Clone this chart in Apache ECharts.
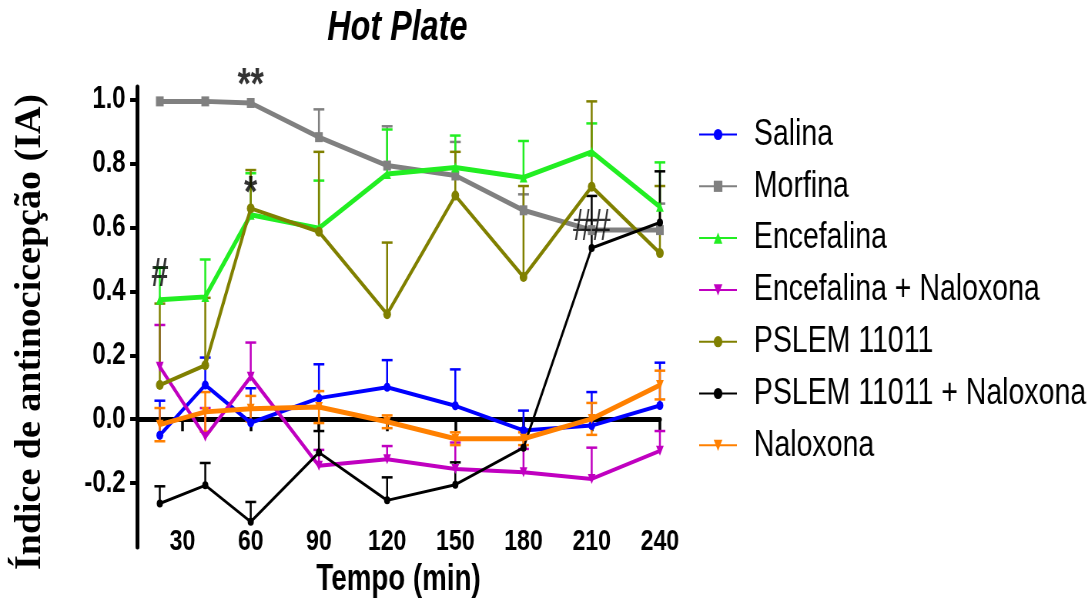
<!DOCTYPE html>
<html>
<head>
<meta charset="utf-8">
<script src="https://cdn.jsdelivr.net/npm/echarts@6/dist/echarts.min.js"></script>
<style>
html, body { margin:0; padding:0; overflow:hidden; background:#fff; }
#chart { width:1418px; height:603px; transform:scaleX(0.77); transform-origin:0 0; }
</style>
</head>
<body>
<div id="chart"></div>
<script>
// ---- data ----
const times = [20, 40, 60, 90, 120, 150, 180, 210, 240];
const xTicks = [30, 60, 90, 120, 150, 180, 210, 240];
const yTicks = [-0.2, 0.0, 0.2, 0.4, 0.6, 0.8, 1.0];
const seriesNames = ['Salina', 'Morfina', 'Encefalina', 'Encefalina + Naloxona', 'PSLEM 11011', 'PSLEM 11011 + Naloxona', 'Naloxona'];

const salina      = [-0.050, 0.107, -0.011, 0.066, 0.100, 0.042, -0.035, -0.020, 0.043];
const salinaErr   = [0.108, 0.086, 0.108, 0.106, 0.085, 0.114, 0.062, 0.105, 0.134];
const morfina     = [0.995, 0.995, 0.990, 0.883, 0.794, 0.763, 0.654, 0.592, 0.592];
const morfinaErr  = [0, 0, 0, 0.087, 0.123, 0.105, 0.050, 0.030, 0.083];
const encefalina  = [0.374, 0.383, 0.640, 0.598, 0.768, 0.788, 0.757, 0.837, 0.665];
const encefalinaErr = [0.100, 0.117, 0.130, 0.149, 0.139, 0.100, 0.114, 0.089, 0.139];
const encNal      = [0.164, -0.055, 0.133, -0.146, -0.125, -0.156, -0.166, -0.187, -0.099];
const encNalErr   = [0.131, 0.090, 0.107, 0.050, 0.041, 0.083, 0.073, 0.098, 0.062];
const pslem       = [0.107, 0.169, 0.660, 0.587, 0.329, 0.700, 0.445, 0.728, 0.520];
const pslemErr    = [0.255, 0.211, 0.120, 0.250, 0.224, 0.137, 0.285, 0.267, 0.210];
const pslemNal    = [-0.264, -0.207, -0.321, -0.104, -0.254, -0.205, -0.089, 0.536, 0.616];
const pslemNalErr = [0.054, 0.070, 0.062, 0.067, 0.072, 0.070, 0.030, 0.163, 0.160];
const naloxona    = [-0.017, 0.023, 0.033, 0.038, -0.008, -0.061, -0.061, 0.001, 0.107];
const naloxonaErr = [0.052, 0.062, 0.040, 0.050, 0.020, 0.020, 0.020, 0.050, 0.045];

// annotations: [time, value, text, fontSize, weight]
const annotations = [
  [60, 1.04, '**', 44, 'bold'],
  [60, 0.703, '*', 44, 'bold'],
  [20, 0.452, '#', 40, 'bold'],
  [210, 0.600, '##', 44, 'normal']
];

// ---- styling ----
const styles = [
  { color: '#0000ff', symbol: 'circle', size: 9, width: 4, both: false },
  { color: '#808080', symbol: 'rect', size: 10, width: 5, both: false },
  { color: '#22ee22', symbol: 'triangle', size: 10, width: 5, both: false },
  { color: '#c000c0', symbol: 'path://M0,0 L10,0 L5,10 Z', size: 10, width: 4, both: false },
  { color: '#808000', symbol: 'circle', size: 10, width: 4, both: false },
  { color: '#000000', symbol: 'circle', size: 8, width: 3, both: false },
  { color: '#ff8000', symbol: 'path://M0,0 L10,0 L5,10 Z', size: 10, width: 5, both: true }
];
const values = [salina, morfina, encefalina, encNal, pslem, pslemNal, naloxona];
const errors = [salinaErr, morfinaErr, encefalinaErr, encNalErr, pslemErr, pslemNalErr, naloxonaErr];

const FONT = 'Liberation Sans, Arial, sans-serif';

function errorRender(color) {
  return function (params, api) {
    const x = api.value(0), y = api.value(1), up = api.value(2), dn = api.value(3);
    const top = api.coord([x, y + up]);
    const bot = api.coord([x, y - dn]);
    const hw = 7;
    const children = [{
      type: 'line', shape: { x1: top[0], y1: top[1], x2: bot[0], y2: bot[1] },
      style: { stroke: color, lineWidth: 2.5 }
    }];
    if (up > 0) children.push({ type: 'line', shape: { x1: top[0] - hw, y1: top[1], x2: top[0] + hw, y2: top[1] }, style: { stroke: color, lineWidth: 2.5 } });
    if (dn > 0) children.push({ type: 'line', shape: { x1: bot[0] - hw, y1: bot[1], x2: bot[0] + hw, y2: bot[1] }, style: { stroke: color, lineWidth: 2.5 } });
    return { type: 'group', children: children };
  };
}

const series = [];
values.forEach((vals, i) => {
  const st = styles[i];
  series.push({
    type: 'custom',
    xAxisIndex: 0,
    renderItem: errorRender(st.color),
    data: times.map((t, k) => [t, vals[k], errors[i][k], st.both ? errors[i][k] : 0]),
    encode: { x: 0, y: 1 },
    z: 1,
    silent: true
  });
});
values.forEach((vals, i) => {
  const st = styles[i];
  series.push({
    name: seriesNames[i],
    type: 'line',
    xAxisIndex: 0,
    data: times.map((t, k) => [t, vals[k]]),
    symbol: st.symbol,
    symbolSize: st.size,
    showSymbol: true,
    lineStyle: { color: st.color, width: st.width },
    itemStyle: { color: st.color },
    z: 2 + i * 0.01,
    animation: false
  });
});
series.push({
  type: 'scatter',
  xAxisIndex: 0,
  symbolSize: 0,
  clip: false,
  silent: true,
  data: annotations.map(a => ({
    value: [a[0], a[1]], name: a[2],
    label: { fontSize: a[3], fontWeight: a[4] }
  })),
  label: {
    show: true, position: 'inside', color: '#000', fontFamily: FONT,
    formatter: p => p.name
  },
  z: 5
});

const chart = echarts.init(document.getElementById('chart'), null, { renderer: 'canvas' });
chart.setOption({
  animation: false,
  backgroundColor: '#fff',
  title: {
    text: 'Hot Plate', left: 516, top: 7, textAlign: 'center', padding: 0,
    textStyle: { fontFamily: FONT, fontSize: 42, fontWeight: 'bold', fontStyle: 'italic', color: '#000' }
  },
  legend: {
    data: seriesNames, orient: 'vertical', left: 902, top: 111,
    itemWidth: 49, itemHeight: 14, itemGap: 14.8,
    textStyle: { fontFamily: FONT, fontSize: 37, lineHeight: 37, color: '#000', padding: [0, 0, 0, 17] }
  },
  grid: { left: 178, right: 561, top: 87, bottom: 51, containLabel: false },
  xAxis: [{
    type: 'value', min: 10, max: 240, position: 'bottom',
    axisLine: { show: true, onZero: true, lineStyle: { color: '#000', width: 5 } },
    axisTick: { show: true, customValues: xTicks, length: 12, lineStyle: { color: '#000', width: 3.5 } },
    axisLabel: { show: false },
    splitLine: { show: false }
  }, {
    type: 'value', min: 10, max: 240, position: 'bottom', offset: -20,
    axisLine: { show: false, onZero: false },
    axisTick: { show: false },
    axisLabel: { show: true, customValues: xTicks, margin: 0, fontFamily: FONT, fontSize: 30, fontWeight: 'bold', color: '#000' },
    splitLine: { show: false },
    name: 'Tempo (min)', nameLocation: 'middle', nameGap: 35,
    nameTextStyle: { fontFamily: FONT, fontSize: 36, fontWeight: 'bold', color: '#000' }
  }],
  yAxis: {
    type: 'value', min: -0.4, max: 1.04,
    axisLine: { show: true, onZero: false, lineStyle: { color: '#000', width: 5 } },
    axisTick: { show: true, customValues: yTicks, length: 9, lineStyle: { color: '#000', width: 4 } },
    axisLabel: { customValues: yTicks, formatter: v => Number(v).toFixed(1), margin: 15, fontFamily: FONT, fontSize: 31, fontWeight: 'bold', color: '#000' },
    splitLine: { show: false }
  },
  graphic: [{
    type: 'text', x: 39, y: 332, rotation: Math.PI / 2, scaleY: 1.3,
    style: {
      text: 'Índice de antinocicepção (IA)', fill: '#000',
      font: 'bold 38px "Liberation Serif", "Times New Roman", serif',
      textAlign: 'center', textVerticalAlign: 'middle'
    }
  }],
  series: series
});
</script>
</body>
</html>
